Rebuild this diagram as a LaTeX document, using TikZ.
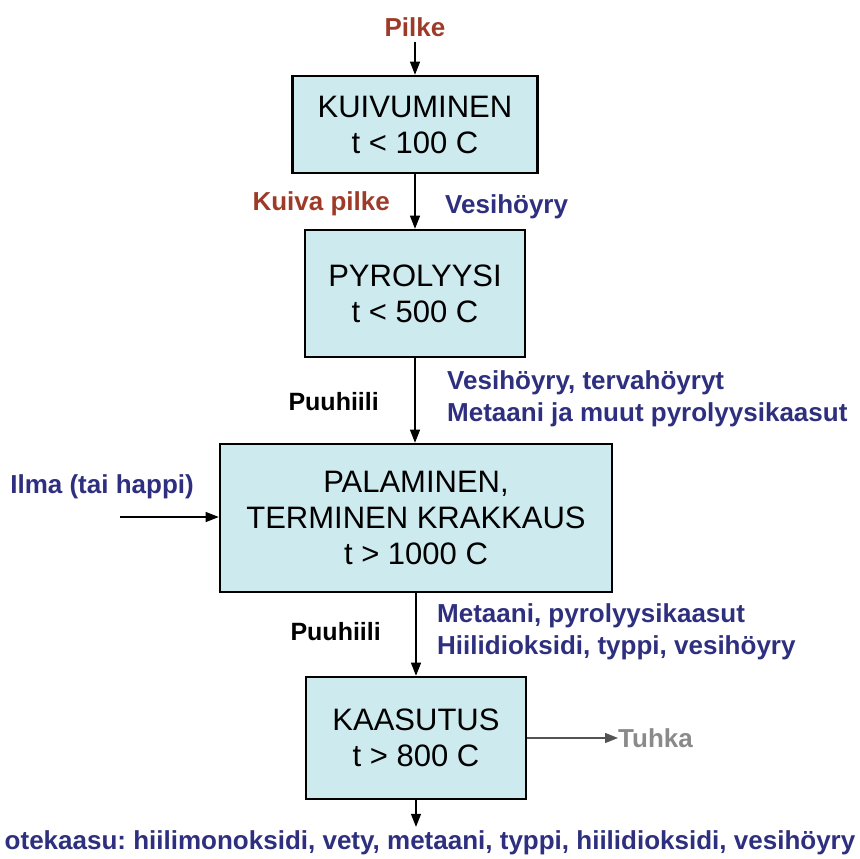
\documentclass[tikz,border=0pt]{standalone}
\usepackage{fontspec}
\setmainfont{Liberation Sans}
\usetikzlibrary{arrows.meta,positioning}
\definecolor{GasBlue}{HTML}{2E2F7E}
\definecolor{FeedRed}{HTML}{9E3B28}
\definecolor{AshGray}{HTML}{8A8A8A}
\definecolor{StageCyan}{HTML}{CDEAEE}

\begin{document}
\frenchspacing
\begin{tikzpicture}[
  x=1pt,y=-1pt,
  stagebox/.style={draw=black,line width=2.6pt,fill=StageCyan,align=center,inner sep=0pt,
    font=\fontsize{31}{36}\selectfont},
  gaslabel/.style={text=GasBlue,font=\bfseries\fontsize{26}{32}\selectfont,align=left,inner sep=0pt},
  feedlabel/.style={text=FeedRed,font=\bfseries\fontsize{26}{32}\selectfont,inner sep=0pt},
  charlabel/.style={text=black,font=\bfseries\fontsize{25}{30}\selectfont,inner sep=0pt},
  arrow/.style={-{Triangle[length=13pt,width=10pt]},draw=black,line width=1.2pt}
]
\useasboundingbox (0,0) rectangle (860,859);
% process stages
\node[stagebox,minimum width=245,minimum height=97] (kuiv) at (415,124.5) {KUIVUMINEN\\t < 100 C};
\node[stagebox,minimum width=220,minimum height=127] (pyro) at (415,293.5) {PYROLYYSI\\t < 500 C};
\node[stagebox,minimum width=392,minimum height=148] (pala) at (416,518) {PALAMINEN,\\TERMINEN KRAKKAUS\\t > 1000 C};
\node[stagebox,minimum width=220,minimum height=122] (kaas) at (416,738) {KAASUTUS\\t > 800 C};
% labels
\node[feedlabel,outer sep=5pt] (pilke) at (415,27) {Pilke};
\node[feedlabel,anchor=east] (kuivapilke) at (390,204) {Kuiva pilke};
\node[gaslabel,anchor=west] (vesi1) at (445,207) {Vesihöyry};
\node[charlabel,anchor=east] (puuhiili1) at (379,402) {Puuhiili};
\node[gaslabel,anchor=west] (pyrokaasut) at (447,399) {Vesihöyry, tervahöyryt\\Metaani ja muut pyrolyysikaasut};
\node[gaslabel,anchor=east] (ilma) at (194,487) {Ilma (tai happi)};
\node[charlabel,anchor=east] (puuhiili2) at (381,632) {Puuhiili};
\node[gaslabel,anchor=west] (palokaasut) at (437,632) {Metaani, pyrolyysikaasut\\Hiilidioksidi, typpi, vesihöyry};
\node[text=AshGray,font=\bfseries\fontsize{26}{32}\selectfont,inner sep=0pt,anchor=west] (tuhka) at (618,738) {Tuhka};
\node[gaslabel,outer sep=4pt] (tuote) at (430,843) {otekaasu: hiilimonoksidi, vety, metaani, typpi, hiilidioksidi, vesihöyry};
\coordinate (ilmain) at (120,517);
% flow
\draw[arrow] (pilke) -- (kuiv);
\draw[arrow] (kuiv) -- (pyro);
\draw[arrow] (pyro) -- (pala.north -| pyro);
\draw[arrow] (ilmain) -- (ilmain -| pala.west);
\draw[arrow] (pala.south -| kaas) -- (kaas);
\draw[arrow,draw=AshGray!60!black] (kaas.east) -- (kaas.east -| tuhka.west);
\draw[arrow] (kaas) -- (tuote.north -| kaas);
\end{tikzpicture}
\end{document}
